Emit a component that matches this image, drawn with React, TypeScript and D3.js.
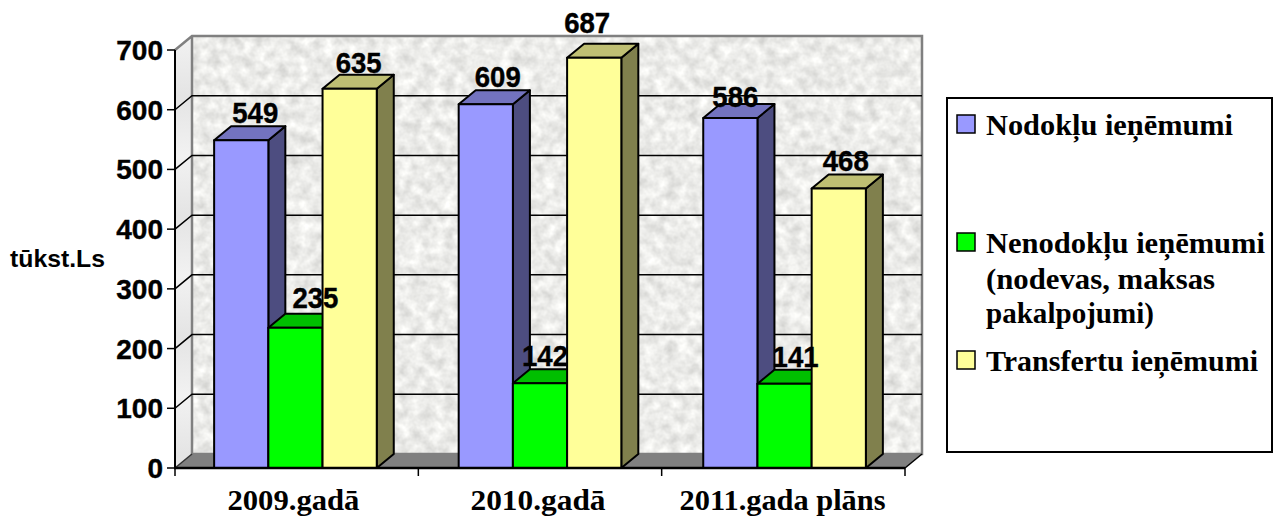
import { useEffect, useRef } from "react";
import * as d3 from "d3";

const categories = ["2009.gadā", "2010.gadā", "2011.gada plāns"];
const seriesNames = ["Nodokļu ieņēmumi", "Nenodokļu ieņēmumi", "Transfertu ieņēmumi"];
const nodoklu = [549, 609, 586];
const nenodoklu = [235, 142, 141];
const transferti = [635, 687, 468];
const ticks = [0, 100, 200, 300, 400, 500, 600, 700];

// [front, top, side]
const colors = [
  ["#9999ff", "#7373bf", "#4d4d80"],
  ["#00ff00", "#00bf00", "#008000"],
  ["#ffff99", "#bfbf73", "#80804d"],
];

// the data labels sit unevenly in the original: [dx, dy] per series, per year
const labelNudge = [
  [[14, -3], [12, -3], [5, 3]],
  [[20, -6], [5, -3], [11, -3]],
  [[9, -2], [-7, -11], [7, -4]],
];

const legendLines = [
  { text: "Nodokļu ieņēmumi", y: 135, len: 247, swatch: 0 },
  { text: "Nenodokļu ieņēmumi", y: 253, len: 279, swatch: 1 },
  { text: "(nodevas, maksas", y: 289, len: 229 },
  { text: "pakalpojumi)", y: 323, len: 168 },
  { text: "Transfertu ieņēmumi", y: 371, len: 272, swatch: 2 },
];
const categoryWidths = [132, 135, 206];

const SANS = "'Liberation Sans', Arial, sans-serif";
const SERIF = "'Liberation Serif', 'Times New Roman', serif";

function App() {
  const svgRef = useRef<SVGSVGElement>(null);

  useEffect(() => {
    const width = 1273;
    const height = 517;
    const depthX = 17;
    const depthY = 14;

    const svg = d3.select(svgRef.current);
    svg.selectAll("*").remove();

    const x0 = d3
      .scaleBand()
      .domain(categories)
      .range([175, 905])
      .paddingInner(0.335)
      .paddingOuter(0.16);
    const x1 = d3
      .scaleBand()
      .domain(seriesNames)
      .range([0, x0.bandwidth()]);
    const y = d3.scaleLinear().domain([0, 700]).range([468, 50]);

    const left = x0.range()[0];
    const right = x0.range()[1];
    const line = d3.line();

    const defs = svg.append("defs");
    const filter = defs
      .append("filter")
      .attr("id", "granite")
      .attr("x", 0)
      .attr("y", 0)
      .attr("width", "100%")
      .attr("height", "100%")
      .attr("color-interpolation-filters", "sRGB");
    filter
      .append("feTurbulence")
      .attr("type", "fractalNoise")
      .attr("baseFrequency", 0.09)
      .attr("numOctaves", 3)
      .attr("seed", 7);
    filter
      .append("feColorMatrix")
      .attr("type", "matrix")
      .attr("values", "0.25 0 0 0 0.8  0.25 0 0 0 0.8  0.25 0 0 0 0.79  0 0 0 0 1");

    const wallGrad = defs
      .append("linearGradient")
      .attr("id", "wallBands")
      .attr("gradientUnits", "userSpaceOnUse")
      .attr("x1", 0)
      .attr("x2", 0)
      .attr("y1", 36)
      .attr("y2", 96)
      .attr("spreadMethod", "reflect");
    wallGrad.append("stop").attr("offset", "0%").attr("stop-color", "#f2f2f2");
    wallGrad.append("stop").attr("offset", "100%").attr("stop-color", "#e4e4e4");

    // back wall
    svg
      .append("rect")
      .attr("x", left + depthX)
      .attr("y", y(700) - depthY)
      .attr("width", right - left)
      .attr("height", y(0) - y(700))
      .attr("filter", "url(#granite)");

    // side wall
    svg
      .append("path")
      .attr(
        "d",
        line([
          [left, y(700)],
          [left + depthX, y(700) - depthY],
          [left + depthX, y(0) - depthY],
          [left, y(0)],
        ]) + "Z"
      )
      .attr("fill", "url(#wallBands)");

    // floor
    svg
      .append("path")
      .attr(
        "d",
        line([
          [left, y(0)],
          [right, y(0)],
          [right + depthX, y(0) - depthY],
          [left + depthX, y(0) - depthY],
        ]) + "Z"
      )
      .attr("fill", "#808080");

    // wall outline
    svg
      .append("path")
      .attr(
        "d",
        line([
          [left, y(700)],
          [left + depthX, y(700) - depthY],
          [right + depthX, y(700) - depthY],
          [right + depthX, y(0) - depthY],
          [left + depthX, y(0) - depthY],
          [left + depthX, y(700) - depthY],
        ])
      )
      .attr("fill", "none")
      .attr("stroke", "#808080")
      .attr("stroke-width", 2.5);

    // gridlines
    const grid = svg.append("g");
    ticks
      .filter((t) => t > 0 && t < 700)
      .forEach((t) => {
        grid
          .append("path")
          .attr(
            "d",
            line([
              [left, y(t)],
              [left + depthX, y(t) - depthY],
              [right + depthX, y(t) - depthY],
            ])
          )
          .attr("fill", "none")
          .attr("stroke", "#000")
          .attr("stroke-width", 1.5);
      });

    // floor diagonals
    svg
      .append("path")
      .attr("d", line([[left, y(0)], [left + depthX, y(0) - depthY]]))
      .attr("stroke", "#333")
      .attr("stroke-width", 1.5);
    svg
      .append("path")
      .attr("d", line([[right, y(0)], [right + depthX, y(0) - depthY]]))
      .attr("stroke", "#000")
      .attr("stroke-width", 1.5);

    // bars
    const allSeries = [nodoklu, nenodoklu, transferti];
    const bars = svg.append("g").attr("stroke", "#000").attr("stroke-width", 2).attr("stroke-linejoin", "round");
    categories.forEach((cat, c) => {
      seriesNames.forEach((name, s) => {
        const v = allSeries[s][c];
        const xa = (x0(cat) as number) + (x1(name) as number);
        const xb = xa + x1.bandwidth();
        const yt = y(v);
        const yb = y(0);
        bars
          .append("path")
          .attr(
            "d",
            line([
              [xb, yt],
              [xb + depthX, yt - depthY],
              [xb + depthX, yb - depthY],
              [xb, yb],
            ]) + "Z"
          )
          .attr("fill", colors[s][2]);
        bars
          .append("path")
          .attr(
            "d",
            line([
              [xa, yt],
              [xa + depthX, yt - depthY],
              [xb + depthX, yt - depthY],
              [xb, yt],
            ]) + "Z"
          )
          .attr("fill", colors[s][1]);
        bars
          .append("rect")
          .attr("x", xa)
          .attr("y", yt)
          .attr("width", xb - xa)
          .attr("height", yb - yt)
          .attr("fill", colors[s][0]);
      });
    });

    // axes
    const yAxis = svg.append("g").attr("stroke", "#000");
    yAxis
      .append("line")
      .attr("x1", left)
      .attr("x2", left)
      .attr("y1", y(700))
      .attr("y2", y(0))
      .attr("stroke-width", 2);
    ticks.forEach((t) => {
      yAxis
        .append("line")
        .attr("x1", left - 8)
        .attr("x2", left)
        .attr("y1", y(t))
        .attr("y2", y(t))
        .attr("stroke-width", 1.5);
      svg
        .append("text")
        .attr("x", 163)
        .attr("y", y(t) + 10)
        .attr("text-anchor", "end")
        .attr("font-family", SANS)
        .attr("font-weight", "bold")
        .attr("font-size", 28)
        .attr("stroke", "#000")
        .attr("stroke-width", 0.4)
        .text(t);
    });

    svg
      .append("line")
      .attr("x1", left - 1)
      .attr("x2", right)
      .attr("y1", y(0))
      .attr("y2", y(0))
      .attr("stroke", "#000")
      .attr("stroke-width", 2.5);
    const tickStep = (right - left) / categories.length;
    [0, 1, 2, 3].forEach((i) => {
      const tx = left + i * tickStep;
      svg
        .append("line")
        .attr("x1", tx)
        .attr("x2", tx)
        .attr("y1", y(0))
        .attr("y2", y(0) + 8)
        .attr("stroke", "#000")
        .attr("stroke-width", 1.5);
    });

    categories.forEach((cat, c) => {
      svg
        .append("text")
        .attr("x", (x0(cat) as number) + x0.bandwidth() / 2 - categoryWidths[c] / 2 - 2)
        .attr("y", 510)
        .attr("font-family", SERIF)
        .attr("font-weight", "bold")
        .attr("font-size", 30)
        .attr("textLength", categoryWidths[c])
        .attr("lengthAdjust", "spacingAndGlyphs")
        .text(cat);
    });

    // data labels
    categories.forEach((cat, c) => {
      seriesNames.forEach((name, s) => {
        const v = allSeries[s][c];
        const [dx, dy] = labelNudge[s][c];
        svg
          .append("text")
          .attr("x", (x0(cat) as number) + (x1(name) as number) + x1.bandwidth() / 2 + dx - 23)
          .attr("y", y(v) - depthY + dy)
          .attr("font-family", SANS)
          .attr("font-weight", "bold")
          .attr("font-size", 30)
          .attr("stroke", "#000")
          .attr("stroke-width", 0.4)
          .attr("textLength", 46)
          .attr("lengthAdjust", "spacingAndGlyphs")
          .text(v);
      });
    });

    // axis title
    svg
      .append("text")
      .attr("x", 10)
      .attr("y", 267)
      .attr("font-family", SANS)
      .attr("font-weight", "bold")
      .attr("font-size", 24)
      .attr("textLength", 95)
      .attr("lengthAdjust", "spacingAndGlyphs")
      .text("tūkst.Ls");

    // legend
    const legend = svg.append("g");
    legend
      .append("rect")
      .attr("x", 947)
      .attr("y", 98)
      .attr("width", 325)
      .attr("height", 354)
      .attr("fill", "#fff")
      .attr("stroke", "#000")
      .attr("stroke-width", 2);
    legendLines.forEach((l) => {
      if (l.swatch !== undefined) {
        legend
          .append("rect")
          .attr("x", 957)
          .attr("y", l.y - 20)
          .attr("width", 18)
          .attr("height", 18)
          .attr("fill", colors[l.swatch][0])
          .attr("stroke", "#000")
          .attr("stroke-width", 1.5);
      }
      legend
        .append("text")
        .attr("x", 986)
        .attr("y", l.y)
        .attr("font-family", SERIF)
        .attr("font-weight", "bold")
        .attr("font-size", 30)
        .attr("textLength", l.len)
        .attr("lengthAdjust", "spacingAndGlyphs")
        .text(l.text);
    });

    svg.attr("width", width).attr("height", height);
  }, []);

  return <svg ref={svgRef} style={{ position: "absolute", left: 0, top: 0, background: "#fff" }}></svg>;
}

export default App;
